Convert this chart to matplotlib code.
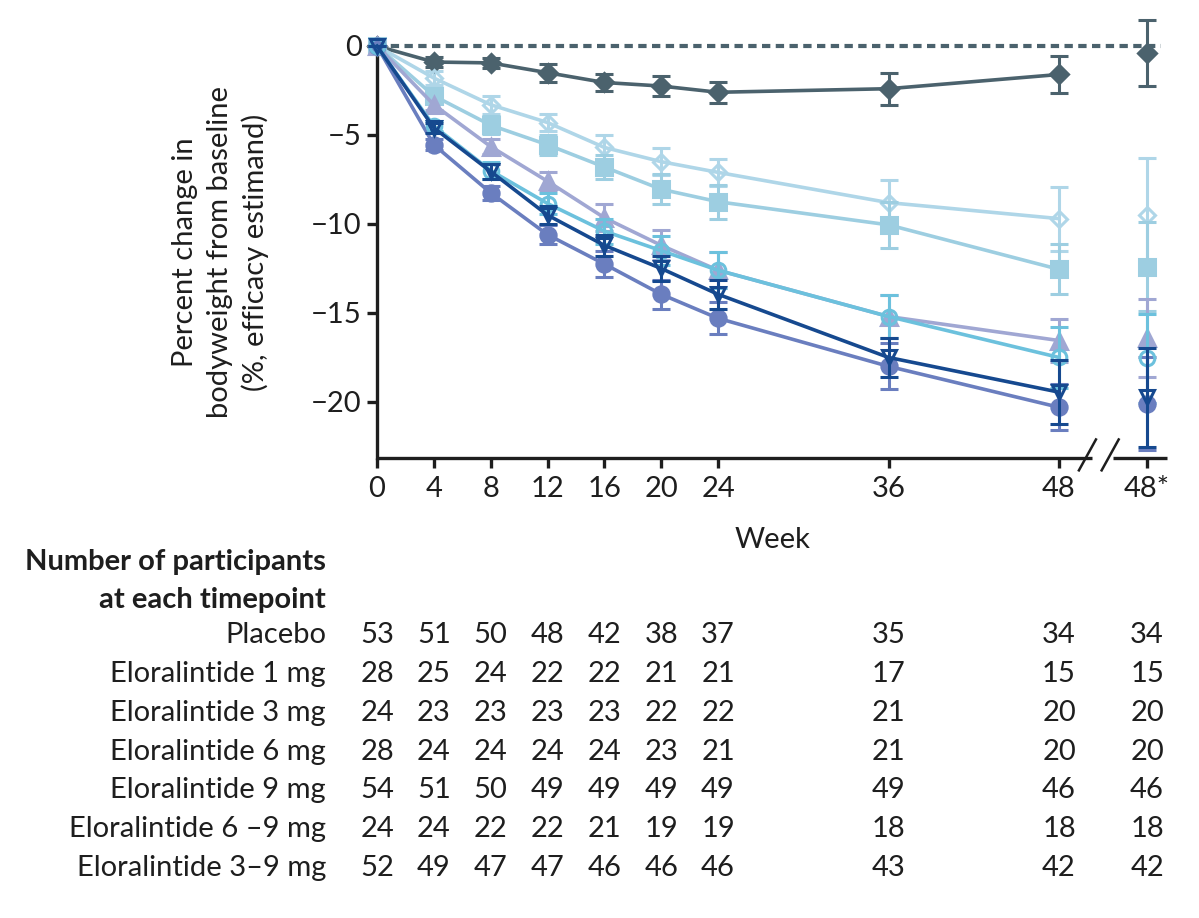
import numpy as np
import matplotlib
matplotlib.use("Agg")
import matplotlib.pyplot as plt
import matplotlib.transforms as mtransforms

plt.rcParams['font.family'] = ['Lato', 'DejaVu Sans']

# ---- data ----
weeks = [0, 4, 8, 12, 16, 20, 24, 36, 48]
tick_labels = ['0', '4', '8', '12', '16', '20', '24', '36', '48', '48*']

groups = ['Placebo', 'Eloralintide 1 mg', 'Eloralintide 3 mg', 'Eloralintide 6 mg',
          'Eloralintide 9 mg', 'Eloralintide 6 \u20139 mg', 'Eloralintide 3\u20139 mg']

placebo_mean = [0, -0.9, -0.95, -1.5, -2.05, -2.25, -2.6, -2.4, -1.6]
placebo_err = [0, 0.3, 0.3, 0.5, 0.5, 0.55, 0.6, 0.9, 1.05]
mg1_mean = [0, -1.8, -3.3, -4.3, -5.7, -6.5, -7.1, -8.8, -9.7]
mg1_err = [0, 0.4, 0.5, 0.5, 0.7, 0.75, 0.75, 1.25, 1.8]
mg3_mean = [0, -2.8, -4.45, -5.55, -6.8, -8.05, -8.75, -10.05, -12.55]
mg3_err = [0, 0.3, 0.5, 0.55, 0.7, 0.85, 0.95, 1.3, 1.4]
mg6_mean = [0, -3.3, -5.65, -7.6, -9.65, -11.2, -12.6, -15.2, -16.55]
mg6_err = [0, 0.3, 0.4, 0.5, 0.75, 0.85, 1.0, 1.2, 1.2]
mg9_mean = [0, -5.55, -8.25, -10.6, -12.25, -13.95, -15.3, -18.0, -20.3]
mg9_err = [0, 0.3, 0.4, 0.55, 0.75, 0.8, 0.9, 1.3, 1.3]
mg69_mean = [0, -4.5, -7.0, -8.85, -10.4, -11.5, -12.6, -15.2, -17.5]
mg69_err = [0, 0.3, 0.5, 0.6, 0.7, 0.8, 1.0, 1.2, 1.7]
mg39_mean = [0, -4.6, -7.05, -9.5, -11.2, -12.5, -13.95, -17.5, -19.45]
mg39_err = [0, 0.3, 0.4, 0.5, 0.6, 0.7, 0.8, 1.1, 1.8]

# week 48* (separate estimate, shown after the axis break)
star_mean = [-0.4, -9.5, -12.4, -16.4, -20.1, -17.55, -19.75]
star_err = [1.85, 3.2, 2.5, 2.2, 2.6, 2.5, 2.8]

n_placebo = [53, 51, 50, 48, 42, 38, 37, 35, 34, 34]
n_1mg = [28, 25, 24, 22, 22, 21, 21, 17, 15, 15]
n_3mg = [24, 23, 23, 23, 23, 22, 22, 21, 20, 20]
n_6mg = [28, 24, 24, 24, 24, 23, 21, 21, 20, 20]
n_9mg = [54, 51, 50, 49, 49, 49, 49, 49, 46, 46]
n_69mg = [24, 24, 22, 22, 21, 19, 19, 18, 18, 18]
n_39mg = [52, 49, 47, 47, 46, 46, 46, 43, 42, 42]

# ---- styles ----
star_x = 54.2
colors = ['#4b626d', '#afd6e8', '#9dcee1', '#a0a7d3', '#6a7ebf', '#6cc1dd', '#16498f']
markers = ['D', 'D', 's', '^', 'o', 'o', 'v']
msizes = [9, 8.5, 11.5, 11, 11, 10.5, 10.5]
filled = [True, False, True, True, True, False, False]
txt = '#1e1e1e'

means = [placebo_mean, mg1_mean, mg3_mean, mg6_mean, mg9_mean, mg69_mean, mg39_mean]
errs = [placebo_err, mg1_err, mg3_err, mg6_err, mg9_err, mg69_err, mg39_err]
counts = [n_placebo, n_1mg, n_3mg, n_6mg, n_9mg, n_69mg, n_39mg]

fig = plt.figure(figsize=(11.99, 9.18), dpi=100)
ax = fig.add_axes([377 / 1199, 1 - 458 / 918, 790 / 1199, 412 / 918])

# reference line at 0 (sits on the top edge, so don't clip it)
ax.plot([0, 55.2], [0, 0], color='#4b626d', lw=3, dashes=(2.0, 1.3),
        dash_capstyle='butt', clip_on=False, zorder=1)

order = [1, 2, 3, 5, 6, 4, 0]
for i in order:
    face = colors[i] if filled[i] else 'none'
    ax.errorbar(weeks, means[i], yerr=errs[i], color=colors[i], lw=2.6,
                marker=markers[i], ms=msizes[i], mfc=face, mec=colors[i], mew=2.2,
                elinewidth=2.2, capsize=6.5, capthick=2.2, clip_on=False,
                zorder=3 + i * 0.1)
    ax.errorbar([star_x], [star_mean[i]], yerr=[star_err[i]], color=colors[i],
                marker=markers[i], ms=msizes[i], mfc=face, mec=colors[i], mew=2.2,
                elinewidth=2.2, capsize=6.5, capthick=2.2, clip_on=False,
                zorder=3 + i * 0.1)

ax.set_xlim(0, 55.6)
ax.set_ylim(-23.15, 0)
ax.set_xticks(weeks + [star_x])
ax.set_xticklabels(tick_labels)
ax.set_yticks([0, -5, -10, -15, -20])
ax.set_yticklabels(['0', '\u22125', '\u221210', '\u221215', '\u221220'])
ax.tick_params(axis='both', length=7, width=2.4, labelsize=21, color=txt,
               labelcolor=txt)
ax.tick_params(axis='y', pad=4)
ax.tick_params(axis='x', pad=6)

for s in ['top', 'right', 'bottom']:
    ax.spines[s].set_visible(False)
ax.spines['left'].set_linewidth(2.4)
ax.spines['left'].set_color(txt)

# bottom spine with an axis break between 48 and 48*
btrans = mtransforms.blended_transform_factory(ax.transData, ax.transAxes)
ax.plot([0, 50.3], [0, 0], color=txt, lw=2.4, transform=btrans, clip_on=False,
        solid_capstyle='butt')
ax.plot([51.8, 55.6], [0, 0], color=txt, lw=2.4, transform=btrans, clip_on=False,
        solid_capstyle='butt')
for bx in [50.0, 51.6]:
    ax.plot([bx - 0.6, bx + 0.6], [-0.03, 0.045], color=txt, lw=1.8,
            transform=btrans, clip_on=False)

ax.set_ylabel('Percent change in\nbodyweight from baseline\n(%, efficacy estimand)',
              fontsize=21, color=txt, labelpad=30, linespacing=1.4)
ax.set_xlabel('Week', fontsize=21, color=txt, labelpad=18)

# ---- number of participants table ----
ttrans = mtransforms.blended_transform_factory(ax.transData, fig.transFigure)
fig.text(326 / 1199, 1 - 562 / 918, 'Number of participants', ha='right', va='center',
         fontsize=21, fontweight='bold', color=txt)
fig.text(326 / 1199, 1 - 600 / 918, 'at each timepoint', ha='right', va='center',
         fontsize=21, fontweight='bold', color=txt)
row_y = [635, 674, 713, 752, 790, 829, 868]
xs = weeks + [star_x]
for g, n, yy in zip(groups, counts, row_y):
    fig.text(326 / 1199, 1 - yy / 918, g, ha='right', va='center', fontsize=21,
             color=txt)
    for x, v in zip(xs, n):
        ax.text(x, 1 - yy / 918, str(v), transform=ttrans, ha='center', va='center',
                fontsize=21, color=txt)

fig.savefig('out.png', dpi=100)
